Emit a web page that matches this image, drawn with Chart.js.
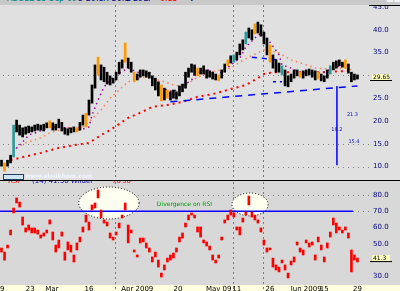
<!DOCTYPE html>
<html>
<head>
<meta charset="utf-8">
<script src="https://cdn.jsdelivr.net/npm/chart.js@4.4.0/dist/chart.umd.min.js"></script>
<style>
  body { margin: 0; width: 400px; height: 291px; overflow: hidden; background: #e0e0e0; font-family: "DejaVu Sans", sans-serif; }
  #head { position: absolute; left: 0; top: 0; width: 400px; height: 5px; background: #c8c8c8; overflow: hidden; }
  #head span { position: absolute; top: -6px; font-size: 8px; white-space: nowrap; }
  #top { position: absolute; left: 0; top: 5px; width: 400px; height: 175px; }
  #sep { position: absolute; left: 0; top: 180px; width: 400px; height: 1px; background: #000; }
  #bot { position: absolute; left: 0; top: 181px; width: 400px; height: 110px; }
</style>
</head>
<body>
<div id="head">
  <span style="left:7px;color:#008080">ABC</span>
  <span style="left:24px;color:#008080">1D</span>
  <span style="left:36px;color:#008080">18-Sep-09</span>
  <span style="left:77px;color:#000080">O 29.8</span>
  <span style="left:103px;color:#000080">H 30.1</span>
  <span style="left:126px;color:#000080">L 29.4</span>
  <span style="left:143px;color:#000080">C</span>
  <span style="left:157px;color:#ff0000">-0.15</span>
  <span style="left:189px;color:#000080">V</span>
  <span style="left:386px;color:#f4f4f4">■■■</span>
</div>
<div id="top"><canvas id="priceChart"></canvas></div>
<div id="sep"></div>
<div id="bot"><canvas id="rsiChart"></canvas></div>
<script>
// price bars (high / low), one per session
const priceHigh = [
  11.4,10.8,11.4,12.5,19.1,20.2,19.1,18.5,18.7,18.9,
  18.7,19.1,19.3,19.1,19.3,19.6,20.0,19.6,19.3,20.4,
  19.7,18.5,18.3,18.5,18.7,18.5,19.7,21.3,21.7,24.6,
  27.9,32.3,34.0,32.3,31.8,30.7,29.9,29.4,30.7,32.9,
  33.4,37.1,33.8,32.9,30.7,30.3,31.2,31.2,31.0,30.7,
  29.9,29.4,28.6,27.9,27.2,26.8,26.4,26.8,26.4,27.7,
  28.1,30.7,31.6,32.5,32.3,31.6,31.6,32.1,31.2,31.0,
  30.7,30.3,30.1,31.2,32.5,33.4,34.3,34.5,35.1,36.9,
  37.8,39.5,40.4,40.0,41.3,41.7,41.1,39.5,38.2,36.7,
  34.5,33.4,32.7,32.1,31.2,29.9,30.3,31.2,31.2,30.7,
  31.0,31.2,31.4,31.2,31.0,30.7,30.3,29.9,31.2,32.1,
  32.9,33.2,33.4,32.9,33.4,32.5,30.7,30.3,30.1
];
const priceLow = [
  10.1,9.0,10.1,10.8,12.1,17.6,16.9,16.5,17.1,17.4,
  17.6,17.8,18.0,18.0,17.8,18.5,18.5,18.0,18.0,18.5,
  17.8,17.1,16.9,17.4,17.6,17.6,18.0,19.1,18.7,21.3,
  23.9,27.2,30.1,29.0,28.6,28.1,27.9,28.3,29.0,30.3,
  31.6,32.9,31.6,30.7,28.6,29.0,29.6,29.9,29.6,29.4,
  27.7,26.8,25.5,24.4,24.6,25.0,24.6,25.0,24.8,25.5,
  26.4,27.2,29.6,30.7,30.1,29.9,30.3,30.3,29.4,29.6,
  29.2,29.0,28.8,29.4,30.7,32.1,32.7,32.9,33.4,34.5,
  35.6,36.9,38.2,37.8,39.1,39.3,38.6,36.9,34.5,32.9,
  31.6,30.7,30.7,30.1,27.7,27.5,28.6,29.4,29.9,29.6,
  29.4,29.9,30.1,29.6,29.0,29.2,28.8,28.6,29.4,30.3,
  31.2,31.6,32.1,31.8,31.6,30.5,28.6,29.0,29.2
];
const orangeBars = [1,16,25,28,32,41,44,53,55,65,72,75,84,89,99,105,114];
const tealBars = [4,77,81,93,109];
const lastClose = 29.65;

// moving averages [session, value]
const ma20 = [[3,12.1],[5,14.1],[7,15.4],[9,16.9],[12,17.6],[16,18.7],[22,18.5],[26,18.0],[29,18.7],[30,21.3],
  [32,24.6],[34,27.5],[36,29.0],[39,30.5],[42,31.6],[45,30.7],[49,30.3],[52,28.3],[53,27.2],[57,26.4],
  [59,27.2],[63,29.0],[65,30.7],[69,31.2],[71,30.1],[73,30.7],[79,33.8],[81,36.2],[84,38.2],[86,39.3],
  [89,37.3],[92,34.5],[93,32.3],[96,31.6],[99,30.5],[104,30.5],[107,30.7],[110,31.6],[113,32.3],[116,32.1]];
const ma50 = [[5,14.1],[8,15.2],[13,16.3],[16,17.4],[22,18.5],[27,18.7],[29,19.8],[33,22.4],[36,25.0],[39,26.8],
  [42,28.6],[47,29.6],[49,29.4],[53,28.8],[58,27.7],[61,27.9],[65,29.6],[69,30.7],[76,31.6],[79,32.9],
  [82,34.0],[87,35.6],[92,34.9],[96,33.4],[101,32.3],[104,31.6],[109,31.4],[114,31.6],[116,31.2]];
const ma200 = [[3,11.45],[6,11.9],[13,13.0],[19,14.1],[24,14.7],[29,15.2],[33,16.9],[36,18.0],[42,20.7],[46,21.8],
  [50,23.1],[55,23.5],[60,24.2],[65,25.3],[70,25.9],[76,27.0],[81,27.9],[85,29.4],[87,30.3],[90,30.7],
  [99,30.7],[106,30.7],[116,31.0]];
const trendLine = [[56,24.2],[118,27.7]];
const channelTop = [[83,34.0],[92,33.4]];
const channelLow = [[90,28.6],[93,28.6]];
const measureLine = [[111.2,27.7],[111.2,10.3]];
const measureNotes = [{x:114.5,y:21.3,t:'21.3'},{x:109.3,y:18.2,t:'18.2'},{x:115,y:15.4,t:'15.4'}];

// RSI (high / low per session)
const rsiHigh = [
  47.5,45,49.3,58.5,72,78.2,75.7,66.5,59.8,61.6,
  59.8,59.8,58.5,55.5,56.7,58.5,64.7,57.3,49.3,52.4,
  57.3,45,51.2,49.3,43.2,50.6,54.2,60.4,67.7,63.4,
  73.9,75.1,83.1,70.8,64.7,63.4,56.7,54.2,57.3,62.8,
  67.7,75.1,61.6,58.5,46.3,43.2,53.6,53.6,50.6,47.5,
  42,45,40.1,32.1,37.1,41.3,43.2,44.4,47.5,54.2,
  56.7,62.8,67.7,69,67.7,60.4,60.4,52.4,51.2,48.7,
  43.2,40.1,43.2,54.2,64.7,67.7,70.8,69,60.4,60.4,
  65.9,69.6,79.4,69.6,67.7,64.7,59.8,52.4,47.5,47.5,
  41.3,37.1,35.8,40.1,37.1,32.1,39.5,42,51.2,47.5,
  46.3,52.4,50.6,51.2,43.2,54.2,49.3,42,50.6,57.3,
  65.9,62.8,60.4,58.5,60.4,56.7,46.3,43.2,41.3
];
const rsiLow = [
  45,40,47.5,55.5,69,75.1,72.6,61.6,57.3,58.5,
  56.7,56.7,56,53.6,54.8,56.7,62.2,52.4,45,47.5,
  54.8,40,46.3,45,38.9,46.3,51.2,57.3,63.4,58.5,
  70.8,72,78.2,65.9,62.8,61,53.6,52.4,55.5,59.8,
  65.9,70.8,50.6,56.7,45,42,50.6,51.2,47.5,45,
  38.9,42,35.8,29.7,34,38.9,40.1,41.3,45,51.2,
  53.6,60.4,64.7,67.7,65.9,57.3,54.2,50.6,48.7,46.3,
  40.1,38.3,41.3,52.4,62.8,64.7,67.7,66.5,58.5,55.5,
  63.4,67.7,73.9,66.5,64.7,62.8,57.3,49.3,45,46.3,
  35.8,34,32.8,38.3,34,29.1,37.1,38.9,49.3,45,
  43.2,50.6,48.1,49.3,40.1,51.2,46.3,38.9,47.5,54.2,
  61.6,56.7,58.5,56.7,58.5,53.6,32.8,40.1,38.9
];
const lastRsi = 41.3;
const rsiLevel = 70;
const rsiEllipses = [{x:35.6,y:75.1,rx:10,ry:9.8},{x:82.4,y:74.2,rx:6,ry:7}];
const rsiNote = {x:51.5,y:74.5,t:'Divergence on RSI'};

// axes
const priceTicks = [45,40,35,30,25,20,15,10];
const priceGrid = [30,15,10];
const rsiTicks = [80,70,60,50,40,30];
const rsiGrid = [80,70];
const vGrid = [37.6,76.8,86.7];
const xTickPos = [0.2,9.5,16.7,29,45,58.5,72,78,89,101,107,118];
const xTickText = ['9','23','Mar','16','Apr 2009','20','May 09','11','26','Jun 2009','15','29'];

const X_MIN = -0.5, X_MAX = 121.5;
const pts = arr => arr.map(p => ({x: p[0], y: p[1]}));
const barColor = priceHigh.map((h, i) => orangeBars.includes(i) ? '#ff9900' : tealBars.includes(i) ? '#2f9a9a' : '#000000');
const noPad = s => { s.paddingTop = 0; s.paddingBottom = 0; s.paddingLeft = 0; s.paddingRight = 0; };

function dotted(ctx, x1, y1, x2, y2, dash, color) {
  ctx.save();
  ctx.strokeStyle = color; ctx.lineWidth = 1; ctx.setLineDash(dash);
  ctx.beginPath(); ctx.moveTo(x1, y1); ctx.lineTo(x2, y2); ctx.stroke();
  ctx.restore();
}
function valueBox(ctx, a, py, text) {
  ctx.save();
  ctx.fillStyle = '#ffffc0';
  ctx.fillRect(a.right + 4, py - 3, 18, 6);
  ctx.strokeStyle = '#000'; ctx.lineWidth = 1;
  ctx.beginPath(); ctx.moveTo(a.right + 2, py + 3.5); ctx.lineTo(a.right + 24, py + 3.5); ctx.stroke();
  ctx.fillStyle = '#000'; ctx.font = '6px "DejaVu Sans"'; ctx.textBaseline = 'middle';
  ctx.fillText(text, a.right + 5, py);
  ctx.restore();
}

const priceDeco = {
  id: 'priceDeco',
  beforeDraw(c) {
    c.ctx.save(); c.ctx.fillStyle = '#e0e0e0'; c.ctx.fillRect(0, 0, c.width, c.height); c.ctx.restore();
  },
  beforeDatasetsDraw(c) {
    const {ctx, chartArea: a, scales: {x, y}} = c;
    priceGrid.forEach(v => { const py = Math.round(y.getPixelForValue(v)) + 0.5; dotted(ctx, a.left + 3, py, a.right + 2, py, [1, 4], '#808080'); });
    vGrid.forEach(v => { const px = Math.round(x.getPixelForValue(v)) + 0.5; dotted(ctx, px, a.top, px, a.bottom, [2, 3], '#7a7a7a'); });
  },
  afterDatasetsDraw(c) {
    const {ctx, chartArea: a, scales: {x, y}} = c;
    ctx.save();
    ctx.fillStyle = '#1010c0'; ctx.font = '5px "DejaVu Sans"'; ctx.textBaseline = 'middle';
    measureNotes.forEach(n => ctx.fillText(n.t, x.getPixelForValue(n.x), y.getPixelForValue(n.y)));
    // watermark
    ctx.fillStyle = '#cfe4f2'; ctx.strokeStyle = '#204060'; ctx.lineWidth = 1;
    ctx.fillRect(3, a.bottom - 6, 20, 5); ctx.strokeRect(3.5, a.bottom - 5.5, 20, 5);
    ctx.fillStyle = '#f2f6ff'; ctx.font = 'bold 6px "DejaVu Sans"'; ctx.textBaseline = 'alphabetic';
    ctx.fillText('www.alsukhom.com', 25, a.bottom - 2);
    // axis top edge
    ctx.strokeStyle = '#000';
    ctx.beginPath(); ctx.moveTo(a.right + 1, 0.5); ctx.lineTo(c.width, 0.5); ctx.stroke();
    ctx.restore();
    valueBox(ctx, a, y.getPixelForValue(lastClose), lastClose.toFixed(2));
  }
};

const rsiDeco = {
  id: 'rsiDeco',
  beforeDraw(c) {
    const {ctx, chartArea: a} = c;
    ctx.save();
    ctx.fillStyle = '#d8d8d8'; ctx.fillRect(0, 0, c.width, c.height);
    ctx.fillStyle = '#ffffe0'; ctx.fillRect(0, a.bottom, c.width, c.height - a.bottom);
    ctx.restore();
  },
  beforeDatasetsDraw(c) {
    const {ctx, chartArea: a, scales: {x, y}} = c;
    rsiGrid.forEach(v => { const py = Math.round(y.getPixelForValue(v)) + 0.5; dotted(ctx, a.left + 3, py, a.right + 2, py, [1, 4], '#808080'); });
    vGrid.forEach(v => { const px = Math.round(x.getPixelForValue(v)) + 0.5; dotted(ctx, px, a.top, px, c.height, [2, 3], '#7a7a7a'); });
    ctx.save();
    rsiEllipses.forEach(e => {
      const cx = x.getPixelForValue(e.x), cy = y.getPixelForValue(e.y);
      const rx = x.getPixelForValue(e.x + e.rx) - cx, ry = cy - y.getPixelForValue(e.y + e.ry);
      ctx.beginPath(); ctx.ellipse(cx, cy, rx, ry, 0, 0, Math.PI * 2);
      ctx.fillStyle = '#fffff0'; ctx.fill();
      ctx.setLineDash([1, 2]); ctx.strokeStyle = '#000'; ctx.lineWidth = 1; ctx.stroke();
    });
    ctx.restore();
  },
  afterDatasetsDraw(c) {
    const {ctx, chartArea: a, scales: {x, y}} = c;
    ctx.save();
    ctx.fillStyle = '#00a000'; ctx.font = '6px "DejaVu Sans"'; ctx.textBaseline = 'middle';
    ctx.fillText(rsiNote.t, x.getPixelForValue(rsiNote.x), y.getPixelForValue(rsiNote.y));
    // legend row, mostly hidden under the separator
    ctx.font = '7px "DejaVu Sans"'; ctx.textBaseline = 'alphabetic';
    ctx.fillStyle = '#ff0000'; ctx.fillText('RSI', 8, 2);
    ctx.fillStyle = '#0000c0'; ctx.fillText('(14) 41.30 Wilder', 32, 2);
    ctx.fillStyle = '#ff0000'; ctx.fillText('70', 112, 2); ctx.fillText('30', 122, 2);
    ctx.restore();
    valueBox(ctx, a, y.getPixelForValue(lastRsi), lastRsi.toFixed(1));
  }
};

const rightAxis = (min, max, ticks, hidden) => ({
  position: 'right', min: min, max: max,
  afterFit: s => { s.width = 32; noPad(s); },
  afterBuildTicks: s => { s.ticks = ticks.map(v => ({value: v})); },
  grid: {display: false, drawTicks: false},
  border: {display: false},
  ticks: {
    padding: 5, color: '#000080', font: {size: 7, family: 'DejaVu Sans'},
    callback: v => v === hidden ? '' : v.toFixed(1)
  }
});

new Chart('priceChart', {
  type: 'bar',
  plugins: [priceDeco],
  data: {
    datasets: [
      {type: 'bar', data: priceHigh.map((h, i) => ({x: i, y: [priceLow[i], h]})), backgroundColor: barColor, barThickness: 2, order: 0},
      {type: 'line', data: pts(ma20), borderColor: '#990099', borderWidth: 1.5, borderDash: [1.5, 3.5], pointRadius: 0, order: 3},
      {type: 'line', data: pts(ma50), borderColor: '#ff7f50', borderWidth: 1.5, borderDash: [1.5, 3.5], pointRadius: 0, order: 4},
      {type: 'line', data: pts(ma200), borderColor: '#ff0000', borderWidth: 2, borderDash: [2, 4], pointRadius: 0, order: 5},
      {type: 'line', data: pts(trendLine), borderColor: '#0000ff', borderWidth: 1.5, borderDash: [7, 6], pointRadius: 0, order: 2},
      {type: 'line', data: pts(channelTop), borderColor: '#0000ff', borderWidth: 1.5, borderDash: [5, 5], pointRadius: 0, order: 2},
      {type: 'line', data: pts(channelLow), borderColor: '#0000ff', borderWidth: 1.5, borderDash: [3, 4], pointRadius: 0, order: 2},
      {type: 'line', data: pts(measureLine), borderColor: '#0000ff', borderWidth: 1.5, pointRadius: 0, order: 1}
    ]
  },
  options: {
    animation: false, responsive: true, maintainAspectRatio: false,
    layout: {padding: 0},
    plugins: {legend: {display: false}, tooltip: {enabled: false}},
    scales: {
      x: {type: 'linear', min: X_MIN, max: X_MAX, offset: false, display: false},
      y: rightAxis(7.06, 45.44, priceTicks, 30)
    }
  }
});

new Chart('rsiChart', {
  type: 'bar',
  plugins: [rsiDeco],
  data: {
    datasets: [
      {type: 'bar', data: rsiHigh.map((h, i) => ({x: i, y: [rsiLow[i], h]})), backgroundColor: '#ff0000', barThickness: 2, order: 0},
      {type: 'line', data: [{x: X_MIN, y: rsiLevel}, {x: 116.5, y: rsiLevel}], borderColor: '#0000ff', borderWidth: 1.5, pointRadius: 0, order: 1}
    ]
  },
  options: {
    animation: false, responsive: true, maintainAspectRatio: false,
    layout: {padding: {top: 1}},
    plugins: {legend: {display: false}, tooltip: {enabled: false}},
    scales: {
      x: {
        type: 'linear', min: X_MIN, max: X_MAX, offset: false, position: 'bottom',
        afterFit: s => { s.height = 6; noPad(s); },
        afterBuildTicks: s => { s.ticks = xTickPos.map(v => ({value: v})); },
        grid: {display: false, drawTicks: false},
        border: {display: false},
        ticks: {
          padding: 0, maxRotation: 0, autoSkip: false, color: '#000', font: {size: 7, family: 'DejaVu Sans'},
          callback: (v, i) => xTickText[i]
        }
      },
      y: rightAxis(24.79, 87.98, rsiTicks, 40)
    }
  }
});
</script>
</body>
</html>
